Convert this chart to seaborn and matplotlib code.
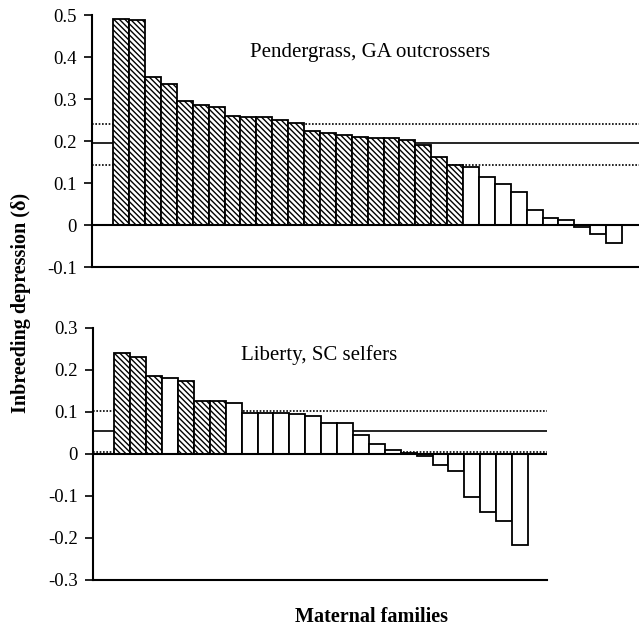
import matplotlib
matplotlib.use("Agg")
import matplotlib.pyplot as plt
import seaborn as sns
import pandas as pd

# ---- data ----
top_title = "Pendergrass, GA outcrossers"
top_delta = [0.490, 0.487, 0.353, 0.336, 0.296, 0.286, 0.282, 0.260, 0.258, 0.258,
             0.250, 0.242, 0.225, 0.218, 0.215, 0.210, 0.208, 0.208, 0.202, 0.190,
             0.162, 0.144, 0.137, 0.115, 0.098, 0.079, 0.036, 0.016, 0.011, -0.005,
             -0.021, -0.042]
top_sig = [1, 1, 1, 1, 1, 1, 1, 1, 1, 1, 1, 1, 1, 1, 1, 1, 1, 1, 1, 1, 1, 1,
           0, 0, 0, 0, 0, 0, 0, 0, 0, 0]
top_mean = 0.195
top_ci = [0.143, 0.240]
top_ticks = [-0.1, 0.0, 0.1, 0.2, 0.3, 0.4, 0.5]
top_ticklabels = ["-0.1", "0", "0.1", "0.2", "0.3", "0.4", "0.5"]

bot_title = "Liberty, SC selfers"
bot_delta = [0.240, 0.232, 0.185, 0.181, 0.175, 0.126, 0.126, 0.122, 0.097, 0.097,
             0.097, 0.095, 0.091, 0.075, 0.075, 0.046, 0.024, 0.010, 0.002, -0.004,
             -0.026, -0.040, -0.103, -0.137, -0.159, -0.217]
bot_sig = [1, 1, 1, 0, 1, 1, 1, 0, 0, 0, 0, 0, 0, 0, 0, 0, 0, 0, 0, 0, 0, 0, 0, 0, 0, 0]
bot_mean = 0.055
bot_ci = [0.004, 0.102]
bot_ticks = [-0.3, -0.2, -0.1, 0.0, 0.1, 0.2, 0.3]
bot_ticklabels = ["-0.3", "-0.2", "-0.1", "0", "0.1", "0.2", "0.3"]

ylabel = "Inbreeding depression (\u03b4)"
xlabel = "Maternal families"

sns.set_theme(style="white")
plt.rcParams["font.family"] = ["Liberation Serif", "DejaVu Serif"]
plt.rcParams["hatch.linewidth"] = 1.0
plt.rcParams["hatch.color"] = "black"

fig = plt.figure(figsize=(6.39, 6.26), dpi=100)
ax_top = fig.add_axes([92 / 639, (626 - 267) / 626, 547 / 639, 252 / 626])
ax_bot = fig.add_axes([93 / 639, (626 - 580) / 626, 454 / 639, 252 / 626])


def panel(ax, delta, sig, mean, ci, ticks, ticklabels, ylim, xlim, title, tpos):
    df = pd.DataFrame({"family": [f"F{i+1}" for i in range(len(delta))],
                       "delta": delta})
    sns.barplot(data=df, x="family", y="delta", order=list(df["family"]),
                color="white", saturation=1, edgecolor="black", linewidth=1.3,
                width=1.0, errorbar=None, ax=ax, zorder=1)
    for p, s in zip(ax.patches, sig):
        p.set_facecolor("white")
        if s:
            p.set_hatch("\\" * 6)
    ax.axhline(mean, color="black", lw=1.2, zorder=0.5)
    for c in ci:
        ax.axhline(c, color="black", lw=1.2, ls=(0, (1, 1)), zorder=0.5)
    ax.axhline(0, color="black", lw=1.5, zorder=3)
    ax.set_xlim(*xlim)
    ax.set_ylim(*ylim)
    ax.set_yticks(ticks)
    ax.set_yticklabels(ticklabels, fontsize=13.5)
    ax.set_xticks([])
    ax.set_xlabel("")
    ax.set_ylabel("")
    ax.tick_params(axis="y", direction="out", length=6, width=1.2, pad=5,
                   left=True, colors="black")
    for side in ["top", "right"]:
        ax.spines[side].set_visible(False)
    for side in ["left", "bottom"]:
        ax.spines[side].set_linewidth(1.5)
        ax.spines[side].set_color("black")
    ax.patch.set_alpha(0)
    ax.text(tpos[0], tpos[1], title, transform=ax.transAxes, ha="left",
            va="baseline", fontsize=15, color="black")


panel(ax_top, top_delta, top_sig, top_mean, top_ci, top_ticks, top_ticklabels,
      (-0.1, 0.5), (-1.84, 32.57), top_title, (0.289, 0.833))
panel(ax_bot, bot_delta, bot_sig, bot_mean, bot_ci, bot_ticks, bot_ticklabels,
      (-0.3, 0.3), (-1.84, 26.69), bot_title, (0.326, 0.873))

fig.text(21 / 639, 0.516, ylabel, rotation=90, ha="center", va="center",
         fontsize=14.5, fontweight="bold", color="black")
fig.text(371 / 639, 4 / 626, xlabel, ha="center", va="baseline",
         fontsize=14.5, fontweight="bold", color="black")

fig.savefig("out.png", dpi=100, facecolor="white")
